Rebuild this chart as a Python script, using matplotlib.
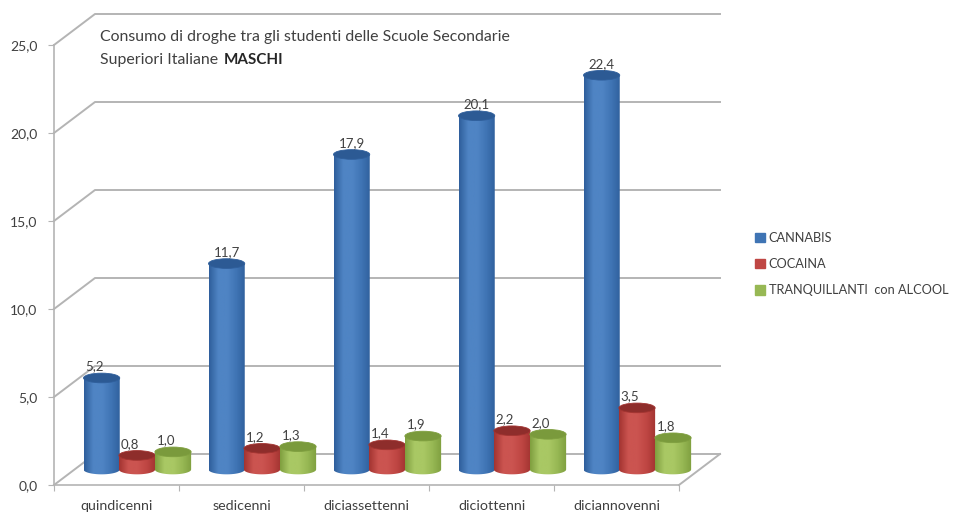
import numpy as np
import matplotlib
matplotlib.use("Agg")
import matplotlib.pyplot as plt
from matplotlib.colors import LinearSegmentedColormap
from matplotlib.patches import Ellipse, Patch, PathPatch
from matplotlib.path import Path

categories = ["quindicenni", "sedicenni", "diciassettenni", "diciottenni", "diciannovenni"]
cannabis = [5.2, 11.7, 17.9, 20.1, 22.4]
cocaina = [0.8, 1.2, 1.4, 2.2, 3.5]
tranquillanti = [1.0, 1.3, 1.9, 2.0, 1.8]
series_names = ["CANNABIS", "COCAINA", "TRANQUILLANTI  con ALCOOL"]
yticks = [0, 5, 10, 15, 20, 25]

plt.rcParams["font.family"] = ["Lato", "DejaVu Sans"]
TEXT = "#404040"
GRID = "#b4b4b4"

fig = plt.figure(figsize=(9.55, 5.15), dpi=100)
ax = fig.add_axes([54 / 955, 30 / 515, 625 / 955, 440 / 515])
ax.set_xlim(0, 5)
ax.set_ylim(0, 25)

# fake 3d: depth of the floor in data units
depth_x = 41 / 125
depth_y = 31 / 17.6

for t in yticks:
    ax.plot([0, depth_x, 5 + depth_x], [t, t + depth_y, t + depth_y], color=GRID, lw=1.4, clip_on=False, zorder=1)
ax.plot([5, 5 + depth_x], [0, depth_y], color=GRID, lw=1.4, clip_on=False, zorder=1)

for s in ["top", "right"]:
    ax.spines[s].set_visible(False)
for s in ["left", "bottom"]:
    ax.spines[s].set_color(GRID)
    ax.spines[s].set_linewidth(1.2)
ax.set_xticks(range(6))
ax.set_xticklabels([])
ax.set_xticks(np.arange(len(categories)) + 0.5, minor=True)
ax.set_xticklabels(categories, minor=True, fontsize=10.3, color=TEXT)
ax.tick_params(axis="x", which="minor", length=0, pad=11)
ax.tick_params(axis="x", which="major", length=4, color=GRID)
ax.set_yticks(yticks)
ax.set_yticklabels([f"{t:.1f}".replace(".", ",") for t in yticks], fontsize=10, color=TEXT)
ax.tick_params(axis="y", length=4, color=GRID, pad=8)
ax.patch.set_alpha(0)

bar_w = 0.29
ell_h = 0.55
base = depth_y / 2
shift = [-0.283, 0, 0.288]
shades = [
    ("#2f5f9c", "#4f84c4", "#3f74b4", "#2c5a94"),
    ("#a33431", "#cb5450", "#bf4643", "#8e2d2b"),
    ("#7f9f3f", "#a9c864", "#97b854", "#7a9a3c"),
]
all_values = [cannabis, cocaina, tranquillanti]

for i in range(len(categories)):
    for j, values in enumerate(all_values):
        v = values[i]
        c = i + 0.5 + depth_x / 2 + shift[j]
        x0 = c - bar_w / 2
        x1 = c + bar_w / 2
        top = base + v
        left, mid, right, cap = shades[j]
        cmap = LinearSegmentedColormap.from_list("cyl", [left, mid, mid, right, left], N=64)
        # body outline: straight sides, round bottom
        a = np.linspace(np.pi, 2 * np.pi, 30)
        xs = np.r_[c + bar_w / 2 * np.cos(a), x1, x0]
        ys = np.r_[base + ell_h / 2 * np.sin(a), top, top]
        clip = PathPatch(Path(np.c_[xs, ys]), transform=ax.transData, fc="none", ec="none")
        ax.add_patch(clip)
        im = ax.imshow(np.linspace(0, 1, 64)[None, :], extent=[x0, x1, base - ell_h, top],
                       cmap=cmap, aspect="auto", zorder=3 + i * 0.1 + j * 0.01)
        im.set_clip_box(fig.bbox)
        im.set_clip_path(clip)
        ax.add_patch(Ellipse((c, top), bar_w, ell_h, fc=cap, ec=left, lw=0.6, clip_on=False,
                             zorder=3 + i * 0.1 + j * 0.01 + 0.001))
        # small bars have the label pushed a bit left
        off = -7 if v < 6 else 0
        ax.annotate(f"{v:.1f}".replace(".", ","), (c, top), xytext=(off * 0.72, 4),
                    textcoords="offset points", ha="center", va="bottom", fontsize=9.5,
                    color=TEXT, zorder=10, annotation_clip=False)

ax.set_xlim(0, 5)
ax.set_ylim(0, 25)

fig.text(100 / 955, 1 - 37 / 515, "Consumo di droghe tra gli studenti delle Scuole Secondarie",
         fontsize=11.4, color=TEXT, va="center")
fig.text(100 / 955, 1 - 60 / 515, "Superiori Italiane", fontsize=11.4, color=TEXT, va="center")
fig.text(224 / 955, 1 - 60 / 515, "MASCHI", fontsize=11, color="#262626", fontweight="bold", va="center")

handles = [Patch(color=shades[k][2]) for k in range(3)]
fig.legend(handles, series_names, loc="center left", bbox_to_anchor=(743 / 955, 1 - 264 / 515),
           frameon=False, fontsize=9.2, labelcolor=TEXT, handlelength=0.8, handleheight=0.8,
           handletextpad=0.3, labelspacing=1.1)

fig.savefig("out.png", dpi=100)
